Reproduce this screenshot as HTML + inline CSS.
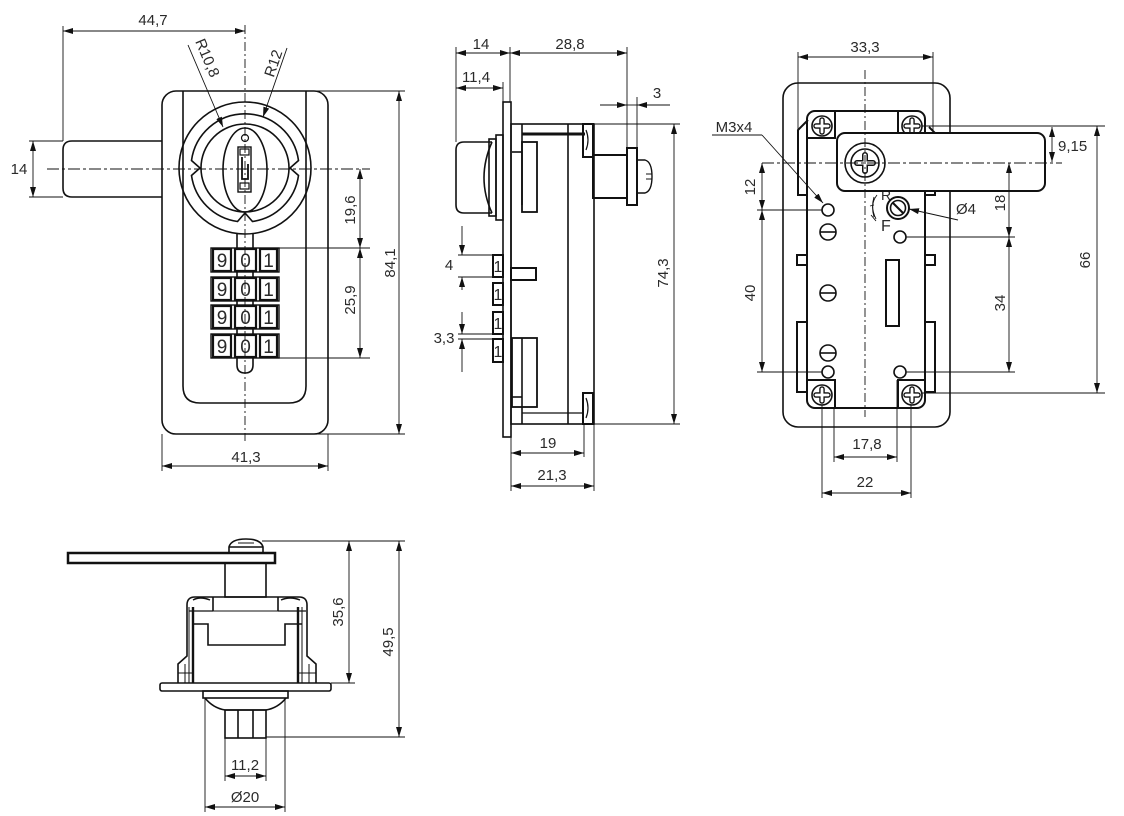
<!DOCTYPE html>
<html><head><meta charset="utf-8"><style>
html,body{margin:0;padding:0;background:#fff;}
svg{display:block;}
text{font-family:"Liberation Sans",Arial,sans-serif;fill:#2a2a2a;font-size:15px;}
text.dg{font-size:19px;}
text.dg1{font-size:16px;}
</style></head><body>
<svg width="1124" height="816" viewBox="0 0 1124 816" xmlns="http://www.w3.org/2000/svg">
<defs>
<marker id="a" viewBox="0 0 10 6" refX="10" refY="3" markerWidth="10" markerHeight="6" markerUnits="userSpaceOnUse" orient="auto-start-reverse"><path d="M0,0L10,3L0,6z" fill="#111"/></marker>
</defs>
<rect width="1124" height="816" fill="#fff"/>

<!-- ============ VIEW 1 (front) ============ -->
<g fill="none" stroke="#111" stroke-width="1.6">
<rect x="162" y="91" width="166" height="343" rx="14"/>
<path d="M183,91V386Q183,403 200,403H289Q306,403 306,386V91"/>
<path d="M162,141H72Q63,141 63,150V188Q63,197 72,197H162"/>
<circle cx="245" cy="168" r="66"/>
<path d="M298.5,175.5A54,54 0 0 1 252.5,221.5L245,213L237.5,221.5A54,54 0 0 1 191.5,175.5L200,168L191.5,160.5A54,54 0 0 1 298.5,160.5L290,168Z"/>
<circle cx="245" cy="168" r="44"/>
<ellipse cx="245" cy="170" rx="22" ry="42"/>
<circle cx="245" cy="138" r="3.5" stroke-width="1.2"/>
<rect x="238" y="147" width="13" height="45" stroke-width="1.4"/>
<rect x="240" y="149" width="9" height="6" stroke-width="1.2"/>
<path d="M242,157V179H248V164" stroke-width="1.8"/>
<rect x="240" y="183" width="9" height="6" stroke-width="1.2"/>
<path d="M237,233V365Q237,373 245,373Q253,373 253,365V233"/>
</g>
<!-- wheels -->
<g stroke="#111" fill="#fff">
<rect x="211" y="248" width="68" height="24" stroke-width="1.4"/>
<rect x="213" y="249" width="18" height="22" stroke-width="2.2"/>
<rect x="235" y="249" width="21" height="22" stroke-width="2.2"/>
<rect x="260" y="249" width="17" height="22" stroke-width="2.2"/>
<rect x="211" y="277" width="68" height="24" stroke-width="1.4"/>
<rect x="213" y="278" width="18" height="22" stroke-width="2.2"/>
<rect x="235" y="278" width="21" height="22" stroke-width="2.2"/>
<rect x="260" y="278" width="17" height="22" stroke-width="2.2"/>
<rect x="211" y="305" width="68" height="24" stroke-width="1.4"/>
<rect x="213" y="306" width="18" height="22" stroke-width="2.2"/>
<rect x="235" y="306" width="21" height="22" stroke-width="2.2"/>
<rect x="260" y="306" width="17" height="22" stroke-width="2.2"/>
<rect x="211" y="334" width="68" height="24" stroke-width="1.4"/>
<rect x="213" y="335" width="18" height="22" stroke-width="2.2"/>
<rect x="235" y="335" width="21" height="22" stroke-width="2.2"/>
<rect x="260" y="335" width="17" height="22" stroke-width="2.2"/>
</g>
<g text-anchor="middle">
<text class="dg" x="222" y="267">9</text><text class="dg" x="245.5" y="267">0</text><text class="dg" x="268.5" y="267">1</text>
<text class="dg" x="222" y="296">9</text><text class="dg" x="245.5" y="296">0</text><text class="dg" x="268.5" y="296">1</text>
<text class="dg" x="222" y="324">9</text><text class="dg" x="245.5" y="324">0</text><text class="dg" x="268.5" y="324">1</text>
<text class="dg" x="222" y="353">9</text><text class="dg" x="245.5" y="353">0</text><text class="dg" x="268.5" y="353">1</text>
</g>
<!-- view1 dims -->
<g stroke="#111" stroke-width="0.9" fill="none">
<line x1="245" y1="25" x2="245" y2="441" stroke-dasharray="9 3 2 3"/>
<line x1="47" y1="169" x2="370" y2="169" stroke-dasharray="12 3 3 3"/>
<line x1="63" y1="26" x2="63" y2="141"/>
<line x1="63" y1="31" x2="245" y2="31" marker-start="url(#a)" marker-end="url(#a)"/>
<line x1="29" y1="141" x2="63" y2="141"/>
<line x1="29" y1="197" x2="63" y2="197"/>
<line x1="33" y1="141" x2="33" y2="197" marker-start="url(#a)" marker-end="url(#a)"/>
<line x1="278" y1="248" x2="370" y2="248"/>
<line x1="278" y1="358" x2="370" y2="358"/>
<line x1="360" y1="169" x2="360" y2="248" marker-start="url(#a)" marker-end="url(#a)"/>
<line x1="360" y1="248" x2="360" y2="358" marker-start="url(#a)" marker-end="url(#a)"/>
<line x1="314" y1="91" x2="405" y2="91"/>
<line x1="314" y1="434" x2="405" y2="434"/>
<line x1="399" y1="91" x2="399" y2="434" marker-start="url(#a)" marker-end="url(#a)"/>
<line x1="162" y1="434" x2="162" y2="471"/>
<line x1="328" y1="434" x2="328" y2="471"/>
<line x1="162" y1="466" x2="328" y2="466" marker-start="url(#a)" marker-end="url(#a)"/>
<line x1="188" y1="45" x2="223" y2="127" marker-end="url(#a)"/>
<line x1="287" y1="48" x2="263" y2="117" marker-end="url(#a)"/>
</g>
<g text-anchor="middle">
<text x="153" y="25">44,7</text>
<text x="19" y="174">14</text>
<text x="246" y="462">41,3</text>
<text transform="translate(355,210) rotate(-90)">19,6</text>
<text transform="translate(355,300) rotate(-90)">25,9</text>
<text transform="translate(395,263) rotate(-90)">84,1</text>
<text transform="translate(200,61) rotate(67)" y="-3">R10,8</text>
<text transform="translate(281,66) rotate(-71)" y="-3">R12</text>
</g>

<!-- ============ VIEW 2 (side) ============ -->
<g fill="none" stroke="#111" stroke-width="1.6">
<rect x="503" y="102" width="8" height="335"/>
<path d="M492,142H464Q456,142 456,150V205Q456,213 464,213H492"/>
<path d="M492,142Q476,178 492,213"/>
<rect x="489" y="139" width="7" height="77"/>
<rect x="496" y="135" width="7" height="85"/>
<rect x="511" y="124" width="83" height="300"/>
<line x1="568" y1="124" x2="568" y2="424"/>
<line x1="522" y1="124" x2="522" y2="205"/>
<rect x="522" y="142" width="15" height="70" stroke-width="1.8"/>
<line x1="512" y1="152" x2="522" y2="152"/>
<line x1="522" y1="134" x2="585" y2="134" stroke-width="3"/>
<rect x="583" y="124" width="10" height="33" stroke-width="2"/>
<path d="M586,130Q590,140 586,150" stroke-width="1.2"/>
<rect x="583" y="393" width="10" height="31" stroke-width="2"/>
<path d="M586,398Q590,408 586,418" stroke-width="1.2"/>
<line x1="522" y1="413" x2="583" y2="413" stroke-width="1.2"/>
<rect x="512" y="338" width="25" height="69" stroke-width="1.8"/>
<line x1="522" y1="338" x2="522" y2="424"/>
<line x1="512" y1="397" x2="522" y2="397"/>
<rect x="511" y="268" width="25" height="12" stroke-width="2"/>
<rect x="593" y="155" width="34" height="43" stroke-width="2"/>
<rect x="627" y="148" width="10" height="57" stroke-width="2"/>
<path d="M637,160H645Q652,162 652,176.5Q652,191 645,193H637" stroke-width="1.4"/>
<path d="M646,174H652M646,179H652" stroke-width="1"/>
</g>
<g stroke="#111" fill="#fff" stroke-width="2">
<rect x="493" y="255" width="10" height="22"/>
<rect x="493" y="283" width="10" height="22"/>
<rect x="493" y="312" width="10" height="22"/>
<rect x="493" y="339" width="10" height="23"/>
</g>
<g text-anchor="middle">
<text class="dg1" x="498" y="272">1</text><text class="dg1" x="498" y="300">1</text><text class="dg1" x="498" y="329">1</text><text class="dg1" x="498" y="357">1</text>
</g>
<g stroke="#111" stroke-width="0.9" fill="none">
<line x1="456" y1="47" x2="456" y2="142"/>
<line x1="510" y1="47" x2="510" y2="102"/>
<line x1="627" y1="47" x2="627" y2="148"/>
<line x1="456" y1="53" x2="510" y2="53" marker-start="url(#a)" marker-end="url(#a)"/>
<line x1="510" y1="53" x2="627" y2="53" marker-start="url(#a)" marker-end="url(#a)"/>
<line x1="503" y1="82" x2="503" y2="102"/>
<line x1="456" y1="88" x2="503" y2="88" marker-start="url(#a)" marker-end="url(#a)"/>
<line x1="637" y1="97" x2="637" y2="148"/>
<line x1="600" y1="105" x2="627" y2="105" marker-end="url(#a)"/>
<line x1="670" y1="105" x2="637" y2="105" marker-end="url(#a)"/>
<line x1="627" y1="105" x2="637" y2="105"/>
<line x1="594" y1="124" x2="680" y2="124"/>
<line x1="594" y1="424" x2="680" y2="424"/>
<line x1="674" y1="124" x2="674" y2="424" marker-start="url(#a)" marker-end="url(#a)"/>
<line x1="511" y1="437" x2="511" y2="491"/>
<line x1="584" y1="424" x2="584" y2="457"/>
<line x1="594" y1="424" x2="594" y2="491"/>
<line x1="511" y1="453" x2="584" y2="453" marker-start="url(#a)" marker-end="url(#a)"/>
<line x1="511" y1="486" x2="594" y2="486" marker-start="url(#a)" marker-end="url(#a)"/>
<line x1="458" y1="255" x2="493" y2="255"/>
<line x1="458" y1="277" x2="493" y2="277"/>
<line x1="462" y1="226" x2="462" y2="255" marker-end="url(#a)"/>
<line x1="462" y1="290" x2="462" y2="277" marker-end="url(#a)"/>
<line x1="458" y1="334" x2="493" y2="334"/>
<line x1="458" y1="339" x2="493" y2="339"/>
<line x1="462" y1="312" x2="462" y2="334" marker-end="url(#a)"/>
<line x1="462" y1="372" x2="462" y2="339" marker-end="url(#a)"/>
</g>
<g text-anchor="middle">
<text x="481" y="49">14</text>
<text x="570" y="49">28,8</text>
<text x="476" y="82">11,4</text>
<text x="657" y="98">3</text>
<text transform="translate(668,273) rotate(-90)">74,3</text>
<text x="548" y="448">19</text>
<text x="552" y="480">21,3</text>
<text x="449" y="270">4</text>
<text x="444" y="343">3,3</text>
</g>

<!-- ============ VIEW 3 (rear) ============ -->
<g fill="none" stroke="#111" stroke-width="1.6">
<rect x="783" y="83" width="167" height="344" rx="15"/>
<path d="M808,120L798,130V195H808" stroke-width="2"/>
<path d="M925,195H935V133L929,127" stroke-width="2"/>
<rect x="807" y="111" width="118" height="297" rx="8" stroke-width="2"/>
<path d="M835,111V138H807" stroke-width="2"/>
<path d="M898,111V133H925" stroke-width="2"/>
<path d="M807,380H835V408" stroke-width="2"/>
<path d="M898,408V380H925" stroke-width="2"/>
<rect x="797" y="255" width="10" height="10" stroke-width="2"/>
<rect x="925" y="255" width="10" height="10" stroke-width="2"/>
<rect x="797" y="322" width="10" height="70" stroke-width="2"/>
<rect x="925" y="322" width="10" height="70" stroke-width="2"/>
<circle cx="822" cy="126" r="10"/>
<circle cx="912" cy="126" r="10"/>
<circle cx="822" cy="395" r="10"/>
<circle cx="912" cy="395" r="10"/>
</g>
<g fill="none" stroke-linecap="round">
<path d="M816,126H828M822,120V132M906,126H918M912,120V132M816,395H828M822,389V401M906,395H918M912,389V401" stroke="#111" stroke-width="5.5"/>
<path d="M816,126H828M822,120V132M906,126H918M912,120V132M816,395H828M822,389V401M906,395H918M912,389V401" stroke="#fff" stroke-width="2.8"/>
</g>
<text x="881" y="200" style="font-size:14px">R</text>
<g fill="none" stroke="#111" stroke-width="1.6">
<rect x="837" y="133" width="208" height="58" rx="8" fill="#fff" stroke-width="2"/>
<circle cx="865" cy="163" r="20"/>
<circle cx="865" cy="163" r="14"/>
<circle cx="828" cy="210" r="6"/>
<circle cx="828" cy="232" r="8"/>
<line x1="820" y1="232" x2="836" y2="232"/>
<circle cx="828" cy="293" r="8"/>
<line x1="820" y1="293" x2="836" y2="293"/>
<circle cx="828" cy="353" r="8"/>
<line x1="820" y1="353" x2="836" y2="353"/>
<circle cx="828" cy="372" r="6"/>
<circle cx="900" cy="237" r="6"/>
<circle cx="900" cy="372" r="6"/>
<circle cx="898" cy="208" r="11" stroke-width="2"/>
<circle cx="898" cy="208" r="7.5"/>
<line x1="893" y1="203" x2="903" y2="213" stroke-width="2"/>
<rect x="886" y="260" width="13" height="66" stroke-width="2"/>
<path d="M877,195Q869,205 876,219M874,197Q871,207 874,217M870,206L874,205M871,215L876,221" stroke-width="0.9"/>
</g>
<g fill="none" stroke-linecap="round">
<path d="M857,163H873M865,155V171" stroke="#111" stroke-width="6"/>
<path d="M857,163H873M865,155V171" stroke="#fff" stroke-width="3"/>
</g>
<g stroke="#111" stroke-width="0.9" fill="none">
<line x1="865" y1="70" x2="865" y2="417" stroke-dasharray="9 3 2 3"/>
<line x1="762" y1="163" x2="1062" y2="163" stroke-dasharray="12 3 3 3"/>
<line x1="798" y1="52" x2="798" y2="130"/>
<line x1="933" y1="52" x2="933" y2="133"/>
<line x1="798" y1="57" x2="933" y2="57" marker-start="url(#a)" marker-end="url(#a)"/>
<line x1="757" y1="210" x2="822" y2="210"/>
<line x1="757" y1="372" x2="822" y2="372"/>
<line x1="762" y1="163" x2="762" y2="210" marker-start="url(#a)" marker-end="url(#a)"/>
<line x1="762" y1="210" x2="762" y2="372" marker-start="url(#a)" marker-end="url(#a)"/>
<line x1="906" y1="237" x2="1015" y2="237"/>
<line x1="906" y1="372" x2="1015" y2="372"/>
<line x1="1009" y1="163" x2="1009" y2="237" marker-start="url(#a)" marker-end="url(#a)"/>
<line x1="1009" y1="237" x2="1009" y2="372" marker-start="url(#a)" marker-end="url(#a)"/>
<line x1="922" y1="126" x2="1105" y2="126"/>
<line x1="922" y1="393" x2="1105" y2="393"/>
<line x1="1097" y1="126" x2="1097" y2="393" marker-start="url(#a)" marker-end="url(#a)"/>
<line x1="1052" y1="127" x2="1052" y2="162" marker-start="url(#a)" marker-end="url(#a)"/>
<line x1="834" y1="408" x2="834" y2="462"/>
<line x1="897" y1="380" x2="897" y2="462"/>
<line x1="834" y1="457" x2="897" y2="457" marker-start="url(#a)" marker-end="url(#a)"/>
<line x1="822" y1="405" x2="822" y2="498"/>
<line x1="911" y1="405" x2="911" y2="498"/>
<line x1="822" y1="493" x2="911" y2="493" marker-start="url(#a)" marker-end="url(#a)"/>
<line x1="712" y1="135" x2="762" y2="135"/>
<line x1="762" y1="135" x2="823" y2="203" marker-end="url(#a)"/>
<line x1="958" y1="220" x2="909" y2="209" marker-end="url(#a)"/>
</g>
<g text-anchor="middle">
<text x="865" y="52">33,3</text>
<text x="734" y="132">M3x4</text>
<text transform="translate(755,187) rotate(-90)">12</text>
<text transform="translate(755,293) rotate(-90)">40</text>
<text transform="translate(1005,203) rotate(-90)">18</text>
<text transform="translate(1005,303) rotate(-90)">34</text>
<text transform="translate(1090,260) rotate(-90)">66</text>
<text x="867" y="449">17,8</text>
<text x="865" y="487">22</text>
</g>
<text x="1058" y="151">9,15</text>
<text x="956" y="214">Ø4</text>
<text x="881" y="231" style="font-size:16px">F</text>

<!-- ============ VIEW 4 (bottom) ============ -->
<g fill="none" stroke="#111" stroke-width="1.6">
<rect x="68" y="553" width="207" height="10" stroke-width="2.5" fill="#fff"/>
<path d="M229,553V547Q231,539 246,539Q261,539 263,547V553"/>
<line x1="229" y1="547" x2="263" y2="547"/>
<line x1="238" y1="543" x2="254" y2="543" stroke-width="1"/>
<rect x="225" y="563" width="41" height="34"/>
<path d="M178,683V664L187,656V605Q187,597 195,597H299Q307,597 307,605V656L316,664V683"/>
<path d="M213,597V611M278,597V611"/>
<path d="M189,611H213M278,611H306" stroke-width="1.2"/>
<path d="M193,600Q200,596 210,600M281,600Q290,596 300,600" stroke-width="1.4"/>
<path d="M192,624H208V645H285V624H302" stroke-width="1.6"/>
<line x1="213" y1="611" x2="278" y2="611" stroke-width="1"/>
<line x1="193" y1="607" x2="193" y2="683" stroke-width="2.4"/>
<line x1="298" y1="607" x2="298" y2="683" stroke-width="2.4"/>
<line x1="189" y1="607" x2="189" y2="683" stroke-width="1"/>
<line x1="302" y1="607" x2="302" y2="683" stroke-width="1"/>
<line x1="185" y1="664" x2="185" y2="683" stroke-width="1"/>
<line x1="309" y1="664" x2="309" y2="683" stroke-width="1"/>
<line x1="178" y1="673" x2="193" y2="673" stroke-width="1"/>
<line x1="298" y1="673" x2="316" y2="673" stroke-width="1"/>
<rect x="160" y="683" width="171" height="8" rx="2"/>
<rect x="203" y="691" width="85" height="7"/>
<path d="M205,698Q213,708 225,710H266Q278,708 286,698"/>
<rect x="225" y="710" width="41" height="28"/>
<line x1="238" y1="710" x2="238" y2="738"/>
<line x1="253" y1="710" x2="253" y2="738"/>
</g>
<g stroke="#111" stroke-width="0.9" fill="none">
<line x1="262" y1="541" x2="405" y2="541"/>
<line x1="331" y1="683" x2="355" y2="683"/>
<line x1="266" y1="737" x2="405" y2="737"/>
<line x1="349" y1="541" x2="349" y2="683" marker-start="url(#a)" marker-end="url(#a)"/>
<line x1="399" y1="541" x2="399" y2="737" marker-start="url(#a)" marker-end="url(#a)"/>
<line x1="225" y1="738" x2="225" y2="781"/>
<line x1="266" y1="738" x2="266" y2="781"/>
<line x1="225" y1="776" x2="266" y2="776" marker-start="url(#a)" marker-end="url(#a)"/>
<line x1="205" y1="698" x2="205" y2="812"/>
<line x1="285" y1="698" x2="285" y2="812"/>
<line x1="205" y1="807" x2="285" y2="807" marker-start="url(#a)" marker-end="url(#a)"/>
</g>
<g text-anchor="middle">
<text transform="translate(343,612) rotate(-90)">35,6</text>
<text transform="translate(393,642) rotate(-90)">49,5</text>
<text x="245" y="770">11,2</text>
<text x="245" y="802">Ø20</text>
</g>
</svg>
</body></html>
